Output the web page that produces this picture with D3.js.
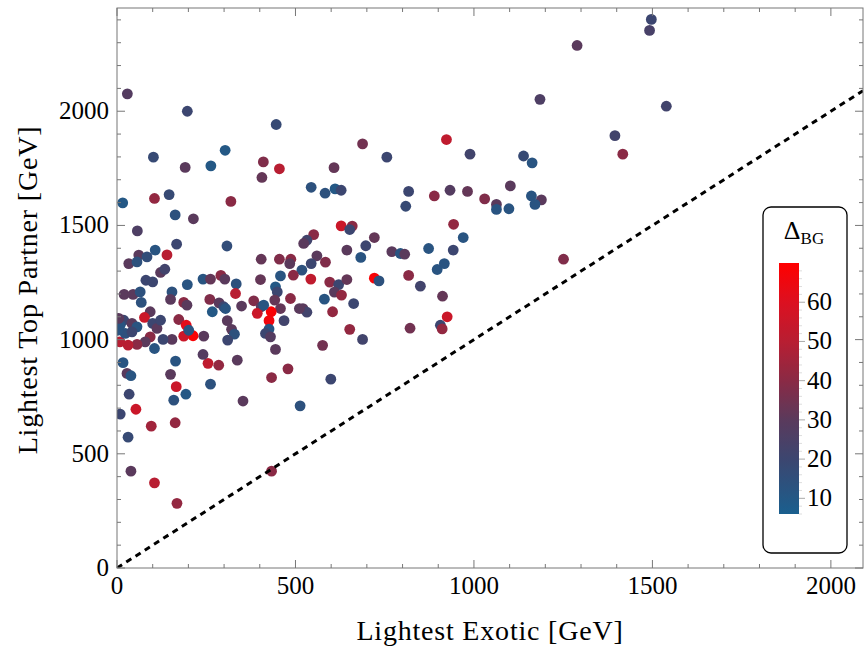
<!DOCTYPE html>
<html>
<head>
<meta charset="utf-8">
<script src="https://cdn.jsdelivr.net/npm/d3@7"></script>
<style>
  body { margin: 0; background: #fff; }
  text { font-family: "Liberation Serif", "DejaVu Serif", serif; }
</style>
</head>
<body>
<svg id="chart" width="866" height="649"></svg>
<script>
// lightest exotic mass [GeV]
const exotic = [
  29,197,446,303,102,410,191,263,455,406,16,105,146,319,163,214,57,167,308,107,
  688,923,756,989,608,544,583,611,628,817,809,889,933,982,1030,1063,1063,628,659,652,
  551,532,523,721,943,970,644,697,770,873,942,
  1395,1417,1139,1163,1102,1161,1189,1171,1098,1251,599,513,1497,1492,1289,1185,1539,
  560,544,584,518,683,794,806,897,917,543,596,621,644,609,629,721,734,817,850,912,
  581,663,604,521,532,925,906,911,821,652,688,576,
  61,33,56,84,140,122,134,81,100,20,45,65,68,154,150,187,196,197,241,262,291,302,334,
  404,455,487,484,402,458,494,444,449,442,486,383,404,458,511,393,432,426,468,411,426,
  416,430,444,479,433,337,255,285,241,164,150,17,260,286,299,267,304,349,309,321,329,
  310,332,243,173,194,213,187,201,154,129,105,93,77,100,112,93,79,56,31,8,19,42,56,23,
  42,2,9,5,122,
  28,39,166,262,34,193,159,53,9,96,163,31,353,39,105,168,433
]
// lightest top partner mass [GeV]
const partner = [
  2076,2000,1942,1829,1799,1778,1754,1761,1748,1710,1599,1618,1635,1605,1546,1529,1476,1418,1410,1392,
  1857,1876,1799,1812,1753,1667,1641,1660,1654,1649,1584,1629,1654,1649,1616,1592,1570,1498,1497,1482,
  1460,1435,1421,1447,1505,1447,1392,1411,1385,1399,1392,
  1893,1812,1804,1774,1673,1629,1612,1592,1573,1352,827,710,2402,2354,2288,2052,2022,
  1367,1333,1339,1304,1360,1377,1374,1307,1333,1265,1252,1241,1263,1208,1195,1269,1257,1281,1234,1190,
  1177,1158,1122,1136,1120,1100,1063,1047,1050,1045,1001,975,
  1370,1333,1340,1362,1371,1294,1308,1260,1253,1198,1198,1209,1163,1209,1176,1163,1151,1241,1265,1265,1281,1265,1244,
  1352,1352,1352,1333,1263,1279,1282,1231,1209,1173,1180,1170,1144,1136,1136,1115,1122,1083,1083,1151,1046,
  1027,1012,957,872,834,910,896,888,935,906,848,899,1176,1161,1144,1122,1136,1147,1083,1045,1024,
  998,1202,1015,1088,1063,1017,1015,1041,1001,1001,961,1122,1097,1071,1049,1012,990,979,976,990,1085,1071,1056,1027,
  1034,1041,1063,1093,1085,
  852,842,794,805,761,761,735,695,674,621,636,573,731,424,373,283,424
]
// Delta_BG
const deltaBG = [
  28,20,18,10,18,38,30,10,50,32,10,42,18,40,14,30,26,20,16,12,
  35,52,20,22,32,14,14,10,20,20,18,40,28,32,38,30,12,55,40,20,
  40,22,30,32,42,12,30,20,30,12,20,
  22,40,18,12,30,12,30,12,12,38,20,14,20,24,30,26,22,
  30,20,38,14,12,12,30,12,12,52,40,20,32,30,42,68,14,40,22,32,
  12,20,42,30,22,55,20,42,35,42,22,35,
  30,30,14,16,50,30,22,20,20,30,30,14,14,14,30,40,30,12,12,32,40,30,14,
  32,38,40,30,32,12,40,10,20,32,40,38,30,32,30,55,68,66,22,12,12,
  20,28,30,40,40,30,52,42,28,12,30,12,38,30,20,10,12,30,30,30,14,
  20,50,30,40,62,68,55,12,30,20,12,30,55,20,30,40,30,40,50,50,20,30,12,14,
  20,12,12,30,20,
  30,12,55,14,20,10,14,55,20,45,42,18,30,30,50,42,40
]

const xTicks = [0, 500, 1000, 1500, 2000]
const yTicks = [0, 500, 1000, 1500, 2000]
const barTicks = [10, 20, 30, 40, 50, 60]

const svg = d3.select('#chart')
const pL = 117, pR = 863, pT = 8, pB = 568

const x = d3.scaleLinear().domain([0, 2090]).range([pL, pR])
const y = d3.scaleLinear().domain([0, 2452]).range([pB, pT])

const color = d3.scaleLinear()
  .domain([6, 20, 30, 40, 50, 60, 70])
  .range(['#1a5f8e', '#3c4670', '#5a3a5c', '#8a2a45', '#b81e32', '#dc1020', '#ff0000'])
  .interpolate(d3.interpolateRgb)

const defs = svg.append('defs')
defs.append('clipPath').attr('id', 'plot')
  .append('rect')
  .attr('x', pL).attr('y', pT)
  .attr('width', pR - pL).attr('height', pB - pT)

// points
const pts = d3.range(exotic.length)
svg.append('g').attr('clip-path', 'url(#plot)')
  .selectAll('circle')
  .data(pts)
  .enter()
  .append('circle')
  .attr('cx', i => x(exotic[i]))
  .attr('cy', i => y(partner[i]))
  .attr('r', 5.4)
  .style('fill', i => color(deltaBG[i]))

// y = x line
svg.append('line')
  .attr('clip-path', 'url(#plot)')
  .attr('x1', x(0)).attr('y1', y(0))
  .attr('x2', x(2090)).attr('y2', y(2090))
  .style('stroke', '#000')
  .style('stroke-width', 3)
  .style('stroke-dasharray', '6,5')

// frame + ticks (all four sides, inward)
const frame = svg.append('g')
frame.append('rect')
  .attr('x', pL).attr('y', pT)
  .attr('width', pR - pL).attr('height', pB - pT)
  .style('fill', 'none')
  .style('stroke', '#777')
  .style('stroke-width', 1)

const minorX = d3.range(0, 2090, 100)
const minorY = d3.range(0, 2452, 100)
const tickLen = v => (v % 500 === 0 ? 8 : 4)

frame.selectAll('.xb').data(minorX).enter().append('line')
  .attr('x1', d => x(d)).attr('x2', d => x(d))
  .attr('y1', pB).attr('y2', d => pB - tickLen(d))
  .style('stroke', '#777')
frame.selectAll('.xt').data(minorX).enter().append('line')
  .attr('x1', d => x(d)).attr('x2', d => x(d))
  .attr('y1', pT).attr('y2', d => pT + tickLen(d))
  .style('stroke', '#777')
frame.selectAll('.yl').data(minorY).enter().append('line')
  .attr('y1', d => y(d)).attr('y2', d => y(d))
  .attr('x1', pL).attr('x2', d => pL + tickLen(d))
  .style('stroke', '#777')
frame.selectAll('.yr').data(minorY).enter().append('line')
  .attr('y1', d => y(d)).attr('y2', d => y(d))
  .attr('x1', pR).attr('x2', d => pR - tickLen(d))
  .style('stroke', '#777')

svg.selectAll('.xl').data(xTicks).enter().append('text')
  .attr('x', d => x(d)).attr('y', 594)
  .attr('text-anchor', 'middle')
  .style('font-size', '25px')
  .text(d => d)
svg.selectAll('.ylab').data(yTicks).enter().append('text')
  .attr('x', 109).attr('y', d => y(d) + 8)
  .attr('text-anchor', 'end')
  .style('font-size', '25px')
  .text(d => d)

svg.append('text')
  .attr('x', 490).attr('y', 640)
  .attr('text-anchor', 'middle')
  .style('font-size', '28px')
  .style('letter-spacing', '0.8px')
  .text('Lightest Exotic [GeV]')
svg.append('text')
  .attr('transform', 'translate(37,290) rotate(-90)')
  .attr('text-anchor', 'middle')
  .style('font-size', '28px')
  .style('letter-spacing', '0.8px')
  .text('Lightest Top Partner [GeV]')

// colour bar legend
const leg = svg.append('g')
leg.append('rect')
  .attr('x', 763).attr('y', 207)
  .attr('width', 84).attr('height', 346)
  .attr('rx', 8)
  .style('fill', '#fff')
  .style('stroke', '#000')
  .style('stroke-width', 1.3)

const cb = d3.scaleLinear().domain([6, 70]).range([514, 263])
const grad = defs.append('linearGradient')
  .attr('id', 'cbar')
  .attr('x1', 0).attr('y1', 1).attr('x2', 0).attr('y2', 0)
grad.selectAll('stop').data(d3.range(6, 70.1, 2)).enter().append('stop')
  .attr('offset', d => (d - 6) / 64)
  .attr('stop-color', d => color(d))

leg.append('rect')
  .attr('x', 779).attr('y', cb(70))
  .attr('width', 20).attr('height', cb(6) - cb(70))
  .style('fill', 'url(#cbar)')

leg.selectAll('.cbt').data(d3.range(6, 70, 2)).enter().append('line')
  .attr('x1', 799).attr('x2', d => (d % 10 === 0 ? 805 : 802))
  .attr('y1', d => cb(d)).attr('y2', d => cb(d))
  .style('stroke', d => (d % 10 === 0 ? '#aaa' : '#ddd'))

leg.selectAll('.cbl').data(barTicks).enter().append('text')
  .attr('x', 807).attr('y', d => cb(d) + 8)
  .style('font-size', '25px')
  .text(d => d)

const ttl = leg.append('text')
  .attr('x', 804).attr('y', 239)
  .attr('text-anchor', 'middle')
  .style('font-size', '26px')
ttl.append('tspan').text('Δ')
ttl.append('tspan').attr('dy', 5).style('font-size', '17px').text('BG')
</script>
</body>
</html>
